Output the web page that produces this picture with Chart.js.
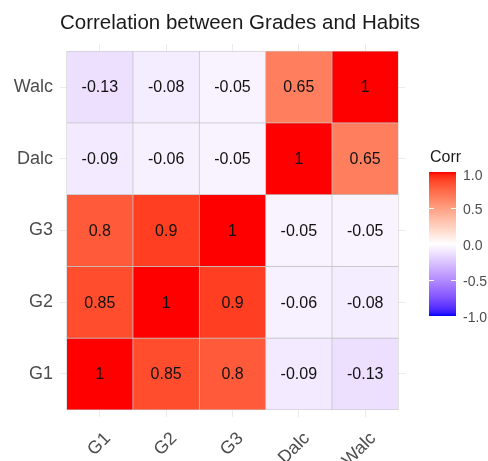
<!DOCTYPE html>
<html>
<head>
<meta charset="utf-8">
<script src="https://cdn.jsdelivr.net/npm/chart.js@4/dist/chart.umd.min.js"></script>
<style>
  html, body { margin: 0; padding: 0; background: #ffffff; }
  #wrap { width: 488px; height: 461px; position: relative; }
</style>
</head>
<body>
<div id="wrap"><canvas id="c"></canvas></div>
<script>
// ---- data ----
const variables = ['G1', 'G2', 'G3', 'Dalc', 'Walc'];
const corrG1   = [1, 0.85, 0.8, -0.09, -0.13];
const corrG2   = [0.85, 1, 0.9, -0.06, -0.08];
const corrG3   = [0.8, 0.9, 1, -0.05, -0.05];
const corrDalc = [-0.09, -0.06, -0.05, 1, 0.65];
const corrWalc = [-0.13, -0.08, -0.05, 0.65, 1];
const legendTicks = [1.0, 0.5, 0.0, -0.5, -1.0];
const chartTitle = 'Correlation between Grades and Habits';
const legendTitle = 'Corr';

const rows = [corrG1, corrG2, corrG3, corrDalc, corrWalc]; // bottom to top

// ---- colour scale (Lab interpolation blue - white - red) ----
function toLin(c){ c/=255; return c<=0.04045? c/12.92 : Math.pow((c+0.055)/1.055,2.4); }
function fromLin(c){ const v = c<=0.0031308? 12.92*c : 1.055*Math.pow(c,1/2.4)-0.055; return Math.max(0,Math.min(255,Math.round(v*255))); }
function rgb2lab(rgb){
  const R=toLin(rgb[0]),G=toLin(rgb[1]),B=toLin(rgb[2]);
  let X=(0.4124564*R+0.3575761*G+0.1804375*B)/0.95047;
  let Y=(0.2126729*R+0.7151522*G+0.0721750*B);
  let Z=(0.0193339*R+0.1191920*G+0.9503041*B)/1.08883;
  const f=t=>t>0.008856?Math.cbrt(t):7.787*t+16/116;
  const fx=f(X),fy=f(Y),fz=f(Z);
  return [116*fy-16, 500*(fx-fy), 200*(fy-fz)];
}
function lab2rgb(lab){
  const fy=(lab[0]+16)/116, fx=fy+lab[1]/500, fz=fy-lab[2]/200;
  const fi=t=>{const t3=t*t*t; return t3>0.008856?t3:(t-16/116)/7.787;};
  const X=fi(fx)*0.95047, Y=fi(fy), Z=fi(fz)*1.08883;
  const R= 3.2404542*X-1.5371385*Y-0.4985314*Z;
  const G=-0.9692660*X+1.8760108*Y+0.0415560*Z;
  const B= 0.0556434*X-0.2040259*Y+1.0572252*Z;
  return [fromLin(R),fromLin(G),fromLin(B)];
}
const LAB_WHITE = rgb2lab([255,255,255]);
const LAB_RED = rgb2lab([255,0,0]);
const LAB_BLUE = rgb2lab([0,0,255]);
function colorFor(v){
  const t = Math.min(1, Math.abs(v));
  const end = v >= 0 ? LAB_RED : LAB_BLUE;
  const lab = [0,1,2].map(i => LAB_WHITE[i] + (end[i]-LAB_WHITE[i])*t);
  const c = lab2rgb(lab);
  return 'rgb(' + c.join(',') + ')';
}

// ---- build cells ----
const cells = [];
rows.forEach((row, r) => {
  row.forEach((v, c) => {
    cells.push({ x: c + 1, y: [r + 0.5, r + 1.5], v: v });
  });
});

const FONT = '"Liberation Sans", Arial, Helvetica, sans-serif';
const AXIS_COL = '#4D4D4D';

const labelPlugin = {
  id: 'cellLabels',
  afterDatasetsDraw(chart) {
    const ctx = chart.ctx;
    const meta = chart.getDatasetMeta(0);
    ctx.save();
    ctx.font = '16px ' + FONT;
    ctx.fillStyle = '#111111';
    ctx.textAlign = 'center';
    ctx.textBaseline = 'middle';
    meta.data.forEach((el, i) => {
      const p = el.getCenterPoint();
      ctx.fillText(String(cells[i].v), p.x, p.y + 1);
    });
    ctx.restore();
  }
};

const decorPlugin = {
  id: 'decor',
  afterDraw(chart) {
    const ctx = chart.ctx;
    ctx.save();
    // title
    ctx.font = '20.5px ' + FONT;
    ctx.fillStyle = '#1A1A1A';
    ctx.textAlign = 'center';
    ctx.textBaseline = 'middle';
    ctx.fillText(chartTitle, 240, 23);

    // colour bar
    const bx = 429, bw = 27, top = 172, bot = 316;
    const g = ctx.createLinearGradient(0, top, 0, bot);
    for (let i = 0; i <= 40; i++) {
      const v = 1 - i / 20;
      g.addColorStop(i / 40, colorFor(v));
    }
    ctx.fillStyle = g;
    ctx.fillRect(bx, top, bw, bot - top);
    const yFor = v => top + (1 - v) / 2 * (bot - top);
    ctx.strokeStyle = '#ffffff';
    ctx.lineWidth = 1;
    legendTicks.forEach(v => {
      if (Math.abs(v) === 1) return;
      const y = Math.round(yFor(v)) + 0.5;
      ctx.beginPath();
      ctx.moveTo(bx, y); ctx.lineTo(bx + 5, y);
      ctx.moveTo(bx + bw - 5, y); ctx.lineTo(bx + bw, y);
      ctx.stroke();
    });
    ctx.font = '14px ' + FONT;
    ctx.fillStyle = AXIS_COL;
    ctx.textAlign = 'left';
    ctx.textBaseline = 'middle';
    legendTicks.forEach(v => {
      let y = yFor(v) + 2;
      if (v === 1) y += 2;
      ctx.fillText(v.toFixed(1), 463, y);
    });
    ctx.font = '16px ' + FONT;
    ctx.fillStyle = '#1A1A1A';
    ctx.fillText(legendTitle, 430, 158);
    ctx.restore();
  }
};

const tickSetter = axis => { axis.ticks = variables.map((_, i) => ({ value: i + 1 })); };

new Chart(document.getElementById('c'), {
  type: 'bar',
  data: {
    datasets: [{
      data: cells,
      backgroundColor: cells.map(d => colorFor(d.v)),
      borderColor: '#C4C4C4',
      borderWidth: 0.7,
      borderSkipped: false,
      barPercentage: 1,
      categoryPercentage: 1
    }]
  },
  options: {
    responsive: true,
    maintainAspectRatio: false,
    animation: false,
    devicePixelRatio: 1,
    layout: { padding: { top: 44, right: 83, left: 0, bottom: 0 } },
    plugins: { legend: { display: false }, tooltip: { enabled: false }, title: { display: false } },
    scales: {
      x: {
        type: 'linear',
        offset: false,
        min: 0.4, max: 5.6,
        afterBuildTicks: tickSetter,
        afterFit: s => { s.height = 44; },
        grid: { color: '#EBEBEB', lineWidth: 1, drawTicks: false, offset: false },
        border: { display: false },
        ticks: {
          callback: v => variables[v - 1],
          font: { family: FONT, size: 18 },
          color: AXIS_COL,
          minRotation: 45, maxRotation: 45,
          labelOffset: 8,
          padding: 11,
          autoSkip: false
        }
      },
      y: {
        type: 'linear',
        offset: false,
        min: 0.4, max: 5.6,
        afterBuildTicks: tickSetter,
        afterFit: s => { s.width = 60; },
        grid: { color: '#EBEBEB', lineWidth: 1, drawTicks: false, offset: false },
        border: { display: false },
        ticks: {
          callback: v => variables[v - 1],
          font: { family: FONT, size: 18 },
          color: AXIS_COL,
          padding: 7,
          autoSkip: false
        }
      }
    }
  },
  plugins: [labelPlugin, decorPlugin]
});
</script>
</body>
</html>
